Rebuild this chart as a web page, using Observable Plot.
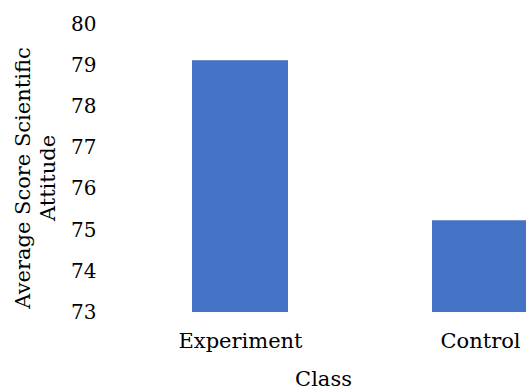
<!DOCTYPE html>
<html>
<head>
<meta charset="utf-8">
<script src="https://cdn.jsdelivr.net/npm/d3@7"></script>
<script src="https://cdn.jsdelivr.net/npm/@observablehq/plot@0.6"></script>
<style>
  html, body { margin: 0; padding: 0; background: #fff; }
</style>
</head>
<body>
<div id="chart"></div>
<script>
const classes = ["Experiment", "Control"];
const scores = [79.12, 75.23];
const yTicks = [73, 74, 75, 76, 77, 78, 79, 80];
const yLabel = "Average Score Scientific\nAttitude";
const xLabel = "Class";

const data = classes.map((c, i) => ({cls: c, score: scores[i]}));

const chart = Plot.plot({
  width: 526,
  height: 391,
  marginLeft: 120,
  marginRight: 0,
  marginTop: 24,
  marginBottom: 79,
  style: {fontFamily: "DejaVu Serif", fontSize: "21px", color: "#000", background: "#fff"},
  x: {domain: classes, range: [120, 600], paddingInner: 0.6, paddingOuter: 0.3},
  y: {domain: [73, 80]},
  marks: [
    Plot.rectY(data, {x: "cls", y1: 73, y2: "score", fill: "#4472C4"}),
    Plot.axisY({ticks: yTicks, tickSize: 0, tickPadding: 24, fontSize: 20, label: null, tickFormat: d => String(d)}),
    Plot.axisX({tickSize: 0, tickPadding: 21, fontSize: 21, label: null}),
    Plot.text([xLabel], {frameAnchor: "bottom", lineAnchor: "top", dy: 59, fontSize: 21, text: d => d}),
    Plot.text([yLabel], {frameAnchor: "left", rotate: -90, dx: -86, dy: 9.5, textAnchor: "middle", lineAnchor: "middle", lineHeight: 1.2, fontSize: 21, text: d => d})
  ]
});
document.getElementById("chart").appendChild(chart);
</script>
</body>
</html>
